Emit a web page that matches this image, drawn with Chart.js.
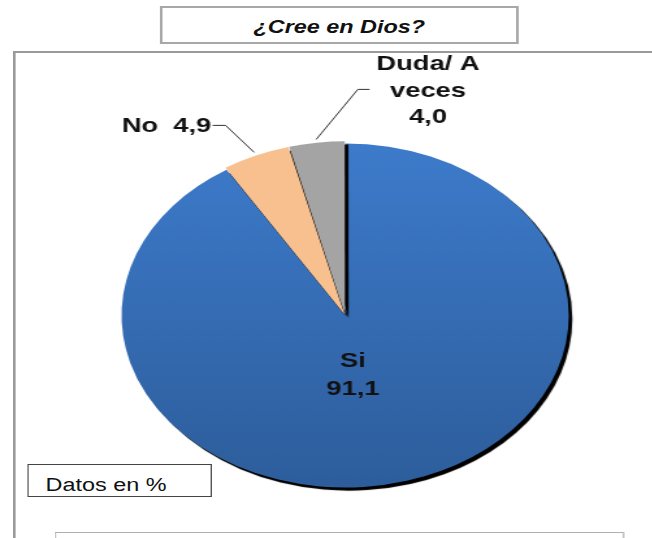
<!DOCTYPE html>
<html lang="es">
<head>
  <meta charset="UTF-8">
  <title>¿Cree en Dios?</title>
  <style>
    body {
      margin: 0;
      background: #fff;
      overflow: hidden;
      font-family: 'Liberation Sans', Arial, sans-serif;
      color: #111;
    }

    /* the original picture is stretched sideways, so the whole page is too */
    #page {
      position: relative;
      width: 502px;
      height: 538px;
      transform: scaleX(1.3);
      transform-origin: 0 0;
    }

    #marco {
      position: absolute;
      left: 10px;
      top: 51px;
      width: 600px;
      height: 600px;
      border: 2px solid #9a9a9a;
    }

    #titulo {
      position: absolute;
      left: 123px;
      top: 6px;
      width: 276px;
      height: 38px;
      box-sizing: border-box;
      border: 2px solid #a8a8a8;
      background: #fff;
      text-align: center;
      font-size: 18px;
      font-weight: bold;
      font-style: italic;
      line-height: 38px;
    }

    #datos {
      position: absolute;
      left: 21px;
      top: 464px;
      width: 142px;
      height: 33px;
      box-sizing: border-box;
      border: 1.5px solid #444;
      background: #fff;
      padding-left: 13px;
      font-size: 18px;
      line-height: 41px;
      white-space: nowrap;
    }

    #pie-caja {
      position: absolute;
      left: 42px;
      top: 532px;
      width: 436px;
      height: 100px;
      border: 1.5px solid #b0b0b0;
    }

    #pieChart {
      position: absolute;
      left: 0;
      top: 0;
    }
  </style>
</head>
<body>
  <div id="page">
    <div id="marco"></div>
    <div id="titulo">¿Cree en Dios?</div>
    <canvas id="pieChart" width="502" height="538"></canvas>
    <div id="datos">Datos en %</div>
    <div id="pie-caja"></div>
  </div>

  <script src="https://cdn.jsdelivr.net/npm/chart.js"></script>
  <script>
    const categories = ['Si', 'No', 'Duda/ A\nveces'];
    const values = [91.1, 4.9, 4.0];
    const colors = ['#3a76c4', '#f8c08f', '#a4a4a4'];

    const fmt = v => v.toFixed(1).replace('.', ',');

    // dark edge under the slices
    const shadowPlugin = {
      id: 'sombra',
      beforeDatasetsDraw(chart) {
        const ctx = chart.ctx;
        ctx.save();
        ctx.shadowColor = 'rgba(0,0,0,1)';
        ctx.shadowOffsetX = 2.8;
        ctx.shadowOffsetY = 3.2;
        ctx.shadowBlur = 0.8;
      },
      afterDatasetsDraw(chart) {
        chart.ctx.restore();
      }
    };

    // labels + leader lines
    const labelPlugin = {
      id: 'etiquetas',
      afterDraw(chart) {
        const ctx = chart.ctx;
        const arcs = chart.getDatasetMeta(0).data;
        ctx.save();
        ctx.font = 'bold 21px "Liberation Sans", Arial, sans-serif';
        ctx.fillStyle = '#111';
        ctx.strokeStyle = '#333';
        ctx.lineWidth = 1;

        arcs.forEach((arc, i) => {
          const p = arc.getProps(['x', 'y', 'startAngle', 'endAngle', 'outerRadius']);
          const mid = (p.startAngle + p.endAngle) / 2;
          const r = p.outerRadius + (arc.options.offset || 0) + 0.5;
          const sx = p.x + Math.cos(mid) * r;
          const sy = p.y + Math.sin(mid) * r;
          const lines = categories[i].split('\n');

          if (i === 0) {
            ctx.textAlign = 'center';
            ctx.fillText(lines[0], p.x + 6, p.y + 51);
            ctx.fillText(fmt(values[i]), p.x + 6, p.y + 79);
          } else if (i === 1) {
            const ex = sx - 22, ey = sy - 27;
            ctx.beginPath();
            ctx.moveTo(sx, sy);
            ctx.lineTo(ex, ey);
            ctx.lineTo(ex - 10, ey);
            ctx.stroke();
            ctx.textAlign = 'right';
            ctx.fillText(lines[0] + '  ' + fmt(values[i]), ex - 11, ey + 7);
          } else {
            const ex = sx + 32, ey = sy - 50;
            ctx.beginPath();
            ctx.moveTo(sx, sy);
            ctx.lineTo(ex, ey);
            ctx.lineTo(ex + 9, ey);
            ctx.stroke();
            ctx.textAlign = 'center';
            const tx = ex + 54;
            ctx.fillText(lines[0], tx, ey - 19);
            ctx.fillText(lines[1], tx, ey + 7.5);
            ctx.fillText(fmt(values[i]), tx, ey + 34);
          }
        });
        ctx.restore();
      }
    };

    new Chart(document.getElementById('pieChart'), {
      type: 'pie',
      data: {
        labels: categories,
        datasets: [{
          data: values,
          backgroundColor: (c) => {
            const area = c.chart.chartArea;
            if (c.dataIndex !== 0 || !area) return colors[c.dataIndex];
            const g = c.chart.ctx.createLinearGradient(0, area.top, 0, area.bottom);
            g.addColorStop(0, '#3d7bcb');
            g.addColorStop(1, '#2d5d9b');
            return g;
          },
          borderWidth: 0,
          offset: [0, 5, 5]
        }]
      },
      options: {
        responsive: false,
        animation: false,
        radius: 172,
        layout: {
          padding: { left: 93, top: 143, right: 64, bottom: 50 }
        },
        plugins: {
          legend: { display: false },
          tooltip: { enabled: false }
        }
      },
      plugins: [shadowPlugin, labelPlugin]
    });
  </script>
</body>
</html>
